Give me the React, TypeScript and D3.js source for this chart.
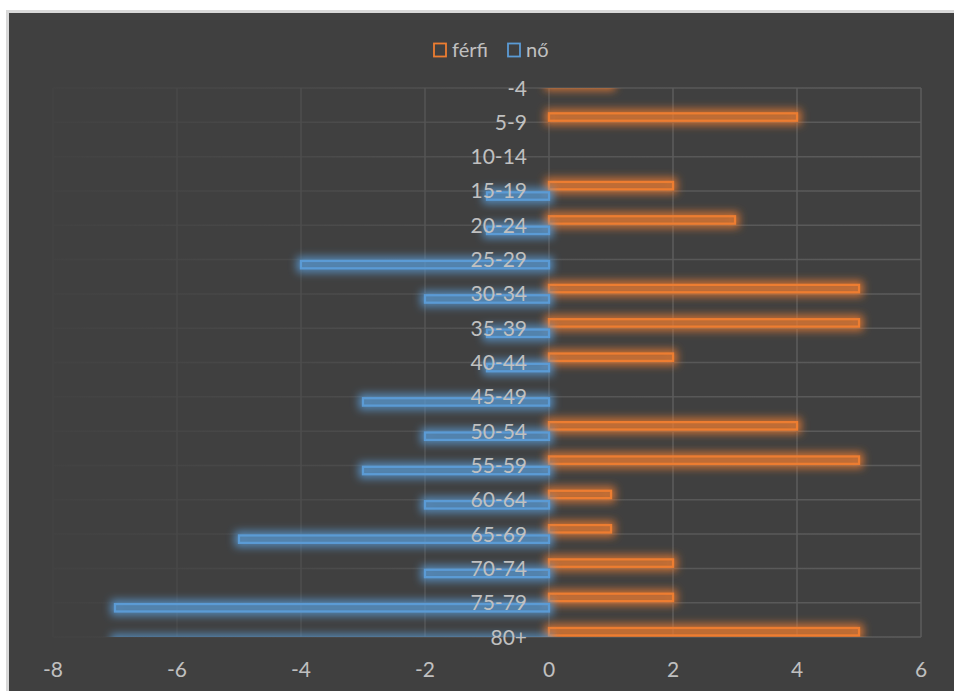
import React, { useEffect, useRef } from 'react';
import * as d3 from 'd3';

const categories = ["0-4", "5-9", "10-14", "15-19", "20-24", "25-29", "30-34", "35-39", "40-44",
  "45-49", "50-54", "55-59", "60-64", "65-69", "70-74", "75-79", "80+"];
const ferfi = [1, 4, 0, 2, 3, 0, 5, 5, 2, 0, 4, 5, 1, 1, 2, 2, 5];
const no = [0, 0, 0, -1, -1, -4, -2, -1, -1, -3, -2, -3, -2, -5, -2, -7, -7];
const xTicks = [-8, -6, -4, -2, 0, 2, 4, 6];
const seriesNames = ["férfi", "nő"];

const ORANGE = "#ED7D31";
const BLUE = "#5B9BD5";
const TEXT = "#c0c0c0";
const FONT = "Lato, 'Open Sans', sans-serif";

const App = () => {
  const ref = useRef<SVGSVGElement>(null);

  useEffect(() => {
    const svg = d3.select(ref.current);
    svg.selectAll("*").remove();
    const W = 954, H = 691;
    const left = 53, right = 921, top = 88, bottom = 637;

    const x = d3.scaleLinear().domain([-8, 6]).range([left, right]);
    const y = d3.scalePoint<string>().domain(categories).range([top, bottom]);
    const step = y.step();
    const barH = step * 0.215;

    const defs = svg.append("defs");
    defs.append("filter").attr("id", "glow")
      .attr("x", "-20%").attr("y", "-250%").attr("width", "140%").attr("height", "600%")
      .append("feGaussianBlur").attr("stdDeviation", 4);

    const grad = defs.append("linearGradient").attr("id", "gridFade")
      .attr("gradientUnits", "userSpaceOnUse")
      .attr("x1", left).attr("x2", right).attr("y1", 0).attr("y2", 0);
    grad.append("stop").attr("offset", 0).attr("stop-color", "#424242");
    grad.append("stop").attr("offset", 0.3).attr("stop-color", "#4a4a4a");
    grad.append("stop").attr("offset", 0.55).attr("stop-color", "#555555");
    grad.append("stop").attr("offset", 1).attr("stop-color", "#5c5c5c");

    defs.append("clipPath").attr("id", "plotClip")
      .append("rect").attr("x", 0).attr("y", top).attr("width", W).attr("height", bottom - top);
    // top label is cut in the original ("0-4" shows as "-4")
    const lc = defs.append("clipPath").attr("id", "labelClip");
    lc.append("rect").attr("x", 0).attr("y", top + 8).attr("width", W).attr("height", H);
    lc.append("rect").attr("x", 508.5).attr("y", 60).attr("width", 100).attr("height", 40);

    // frame
    svg.append("rect").attr("x", 6).attr("y", 10).attr("width", W).attr("height", H).attr("fill", "#d9d9d9");
    svg.append("rect").attr("x", 9).attr("y", 13).attr("width", W).attr("height", H).attr("fill", "#404040");

    // gridlines
    const grid = svg.append("g");
    grid.selectAll("line.h").data(categories).enter().append("line")
      .attr("x1", left).attr("x2", right)
      .attr("y1", d => y(d)!).attr("y2", d => y(d)!)
      .attr("stroke", "url(#gridFade)").attr("stroke-width", 1.5);
    grid.selectAll("line.v").data(xTicks).enter().append("line")
      .attr("x1", d => x(d)).attr("x2", d => x(d))
      .attr("y1", top).attr("y2", bottom)
      .attr("stroke", d => d3.interpolateRgb("#434343", "#5c5c5c")(Math.min(1, (d + 8) / 9)))
      .attr("stroke-width", 1.5);

    // bars
    const bars = svg.append("g").attr("clip-path", "url(#plotClip)");
    const series = [
      { values: ferfi, color: ORANGE, off: -barH - 1.6 },
      { values: no, color: BLUE, off: 1.4 },
    ];
    series.forEach(s => {
      const data = categories.map((c, i) => ({ c, v: s.values[i] })).filter(d => d.v !== 0);
      const rx = (d: { v: number }) => Math.min(x(0), x(d.v));
      const rw = (d: { v: number }) => Math.abs(x(d.v) - x(0));
      bars.append("g").selectAll("rect").data(data).enter().append("rect")
        .attr("x", d => rx(d) - 1).attr("y", d => y(d.c)! + s.off - 1)
        .attr("width", d => rw(d) + 2).attr("height", barH + 2)
        .attr("fill", s.color).attr("fill-opacity", 0.45)
        .attr("stroke", s.color).attr("stroke-width", 6).attr("stroke-opacity", 0.85)
        .attr("filter", "url(#glow)");
      bars.append("g").selectAll("rect").data(data).enter().append("rect")
        .attr("x", d => rx(d)).attr("y", d => y(d.c)! + s.off)
        .attr("width", rw).attr("height", barH)
        .attr("fill", s.color).attr("fill-opacity", 0.1)
        .attr("stroke", s.color).attr("stroke-width", 2.3);
    });

    // category labels
    svg.append("g").attr("clip-path", "url(#labelClip)")
      .selectAll("text").data(categories).enter().append("text")
      .attr("x", 527).attr("y", d => y(d)!).attr("dy", "0.36em")
      .attr("text-anchor", "end").attr("fill", TEXT)
      .attr("font-family", FONT).attr("font-size", 21)
      .text(d => d);

    // x tick labels
    svg.append("g").selectAll("text").data(xTicks).enter().append("text")
      .attr("x", d => x(d)).attr("y", 669).attr("dy", "0.36em")
      .attr("text-anchor", "middle").attr("fill", TEXT)
      .attr("font-family", FONT).attr("font-size", 21)
      .text(d => String(d));

    // legend
    const legend = svg.append("g");
    const lx = [434, 508];
    seriesNames.forEach((name, i) => {
      legend.append("rect").attr("x", lx[i]).attr("y", 43.5).attr("width", 12).attr("height", 13)
        .attr("fill", "none").attr("stroke", i === 0 ? ORANGE : BLUE).attr("stroke-width", 1.8);
      legend.append("text").attr("x", lx[i] + 18).attr("y", 50).attr("dy", "0.36em")
        .attr("fill", TEXT).attr("font-family", FONT).attr("font-size", 20)
        .text(name);
    });
  }, []);

  return (
    <div style={{ position: "fixed", left: 0, top: 0, width: 954, height: 691, overflow: "hidden", background: "#fff" }}>
      <svg ref={ref} width={954} height={691} style={{ display: "block" }} />
    </div>
  );
};

export default App;
